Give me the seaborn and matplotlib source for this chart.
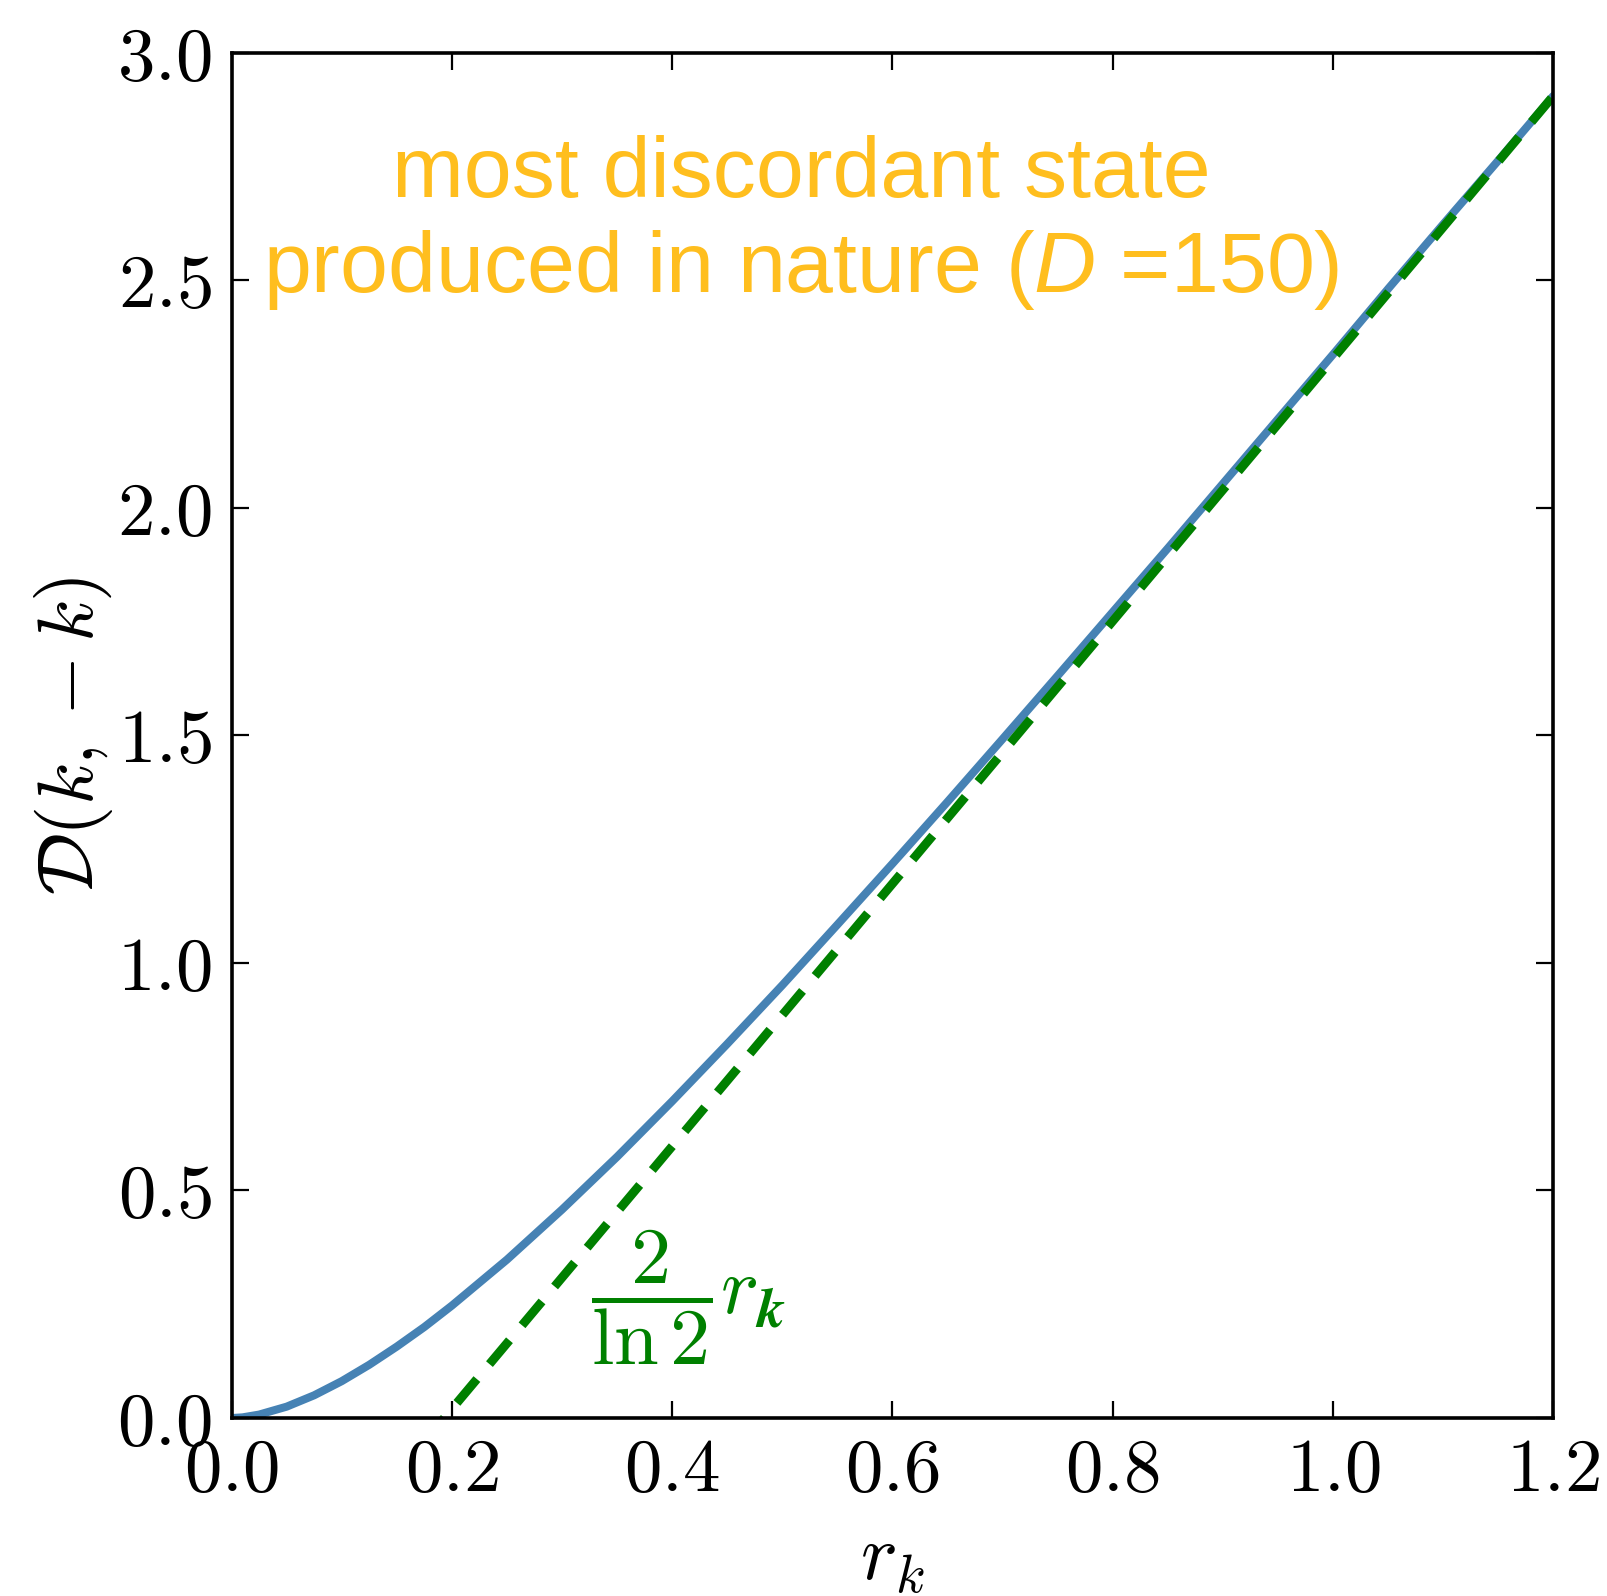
import matplotlib
matplotlib.use("Agg")
import matplotlib.pyplot as plt
from matplotlib.ticker import FuncFormatter
import seaborn as sns

# discord of the two-mode state
r_curve = [0.0, 0.01, 0.025, 0.05, 0.075, 0.1, 0.125, 0.15, 0.175, 0.2, 0.25, 0.3, 0.35, 0.4,
           0.45, 0.5, 0.55, 0.6, 0.65, 0.7, 0.75, 0.8, 0.85, 0.9, 0.95, 1.0, 1.05, 1.1,
           1.15, 1.2]
d_curve = [0.0, 0.0015, 0.0076, 0.025, 0.050, 0.081, 0.117, 0.157, 0.200, 0.247, 0.348, 0.458,
           0.574, 0.696, 0.822, 0.951, 1.084, 1.218, 1.354, 1.492, 1.631, 1.771, 1.911, 2.053,
           2.195, 2.337, 2.481, 2.623, 2.763, 2.905]

# large-r asymptote (dashed)
r_asym = [0.0, 1.2]
d_asym = [-0.557, 2.905]

x_ticks = [0.0, 0.2, 0.4, 0.6, 0.8, 1.0, 1.2]
y_ticks = [0.0, 0.5, 1.0, 1.5, 2.0, 2.5, 3.0]

sns.set_style("ticks")
plt.rcParams["font.family"] = ["Liberation Sans", "DejaVu Sans"]
plt.rcParams["mathtext.fontset"] = "cm"
plt.rcParams["mathtext.rm"] = "Liberation Sans"
plt.rcParams["mathtext.it"] = "Liberation Sans:italic"
plt.rcParams["mathtext.bf"] = "Liberation Sans:bold"
plt.rcParams["text.color"] = "black"
plt.rcParams["axes.labelcolor"] = "black"

fig, ax = plt.subplots(figsize=(8.04, 7.98), dpi=200)
fig.subplots_adjust(left=0.144, right=0.966, bottom=0.1115, top=0.967)

sns.lineplot(x=r_curve, y=d_curve, ax=ax, color="#4682B4", linewidth=2.9)
sns.lineplot(x=r_asym, y=d_asym, ax=ax, color="#008000", linewidth=3.2,
             linestyle=(0, (3.5, 2.2)), dash_capstyle="butt")

ax.set_xlim(0, 1.2)
ax.set_ylim(0, 3.0)
ax.set_xticks(x_ticks)
ax.set_yticks(y_ticks)
fmt = FuncFormatter(lambda v, pos: f"${v:.1f}$")
ax.xaxis.set_major_formatter(fmt)
ax.yaxis.set_major_formatter(fmt)
ax.tick_params(direction="in", length=6, width=0.8, labelsize=27, pad=7,
               top=True, right=True, color="black", labelcolor="black")
for sp in ax.spines.values():
    sp.set_linewidth(1.3)
    sp.set_color("black")

ax.set_xlabel(r"$r_k$", fontsize=28, labelpad=6)
ax.set_ylabel(r"$\mathcal{D}(k,-k)$", fontsize=28, labelpad=1)

ax.text(0.517, 2.624, "most discordant state\nproduced in nature ($D$ =150)",
        ha="center", va="center", fontsize=31, color="#FFBE1E",
        math_fontfamily="custom")
ax.text(0.415, 0.265, r"$\dfrac{2}{\ln 2}r_{\boldsymbol{k}}$",
        ha="center", va="center", fontsize=29, color="#008000")

fig.savefig("out.png", dpi=200)
